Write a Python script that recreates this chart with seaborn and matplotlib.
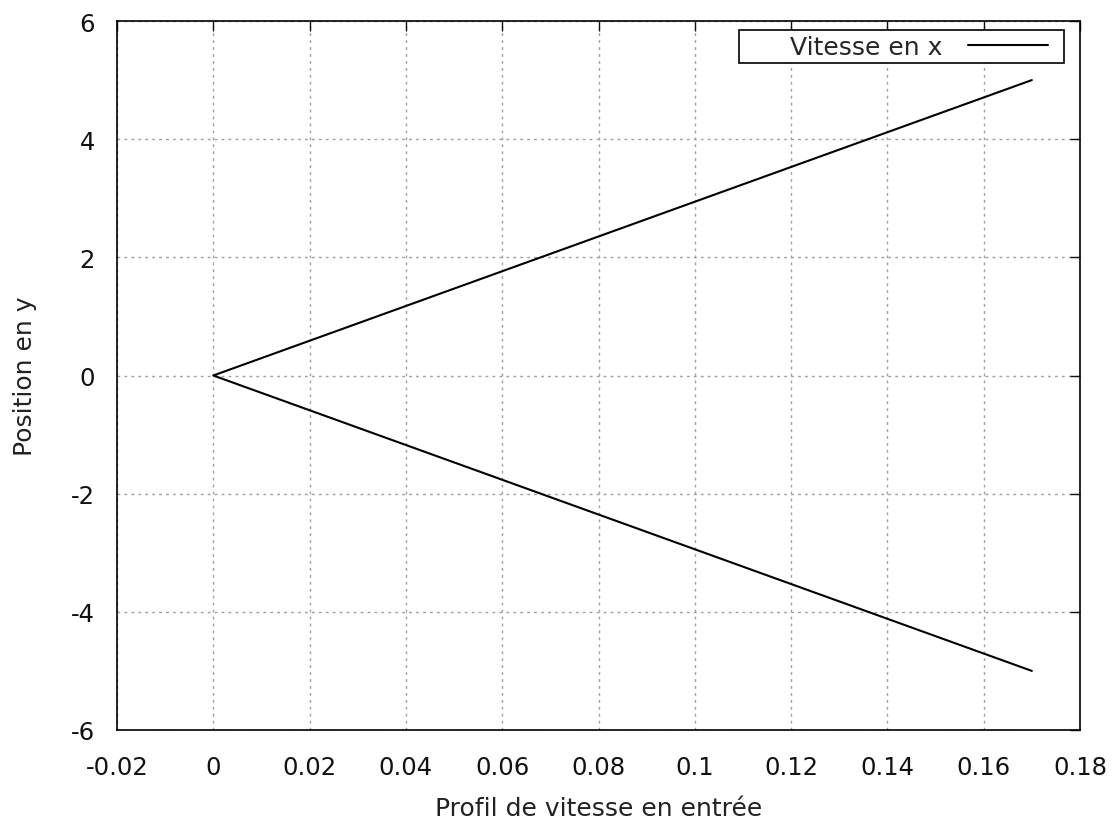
import matplotlib
matplotlib.use("Agg")
import matplotlib.pyplot as plt
from matplotlib.patches import Rectangle
import seaborn as sns
import pandas as pd

# profil de vitesse en entrée (vitesse en x selon la position en y)
position_y = [5, 4, 3, 2, 1, 0, -1, -2, -3, -4, -5]
vitesse_x = [0.17, 0.136, 0.102, 0.068, 0.034, 0.0, 0.034, 0.068, 0.102, 0.136, 0.17]

x_ticks = [-0.02, 0, 0.02, 0.04, 0.06, 0.08, 0.1, 0.12, 0.14, 0.16, 0.18]
x_labels = ["-0.02", "0", "0.02", "0.04", "0.06", "0.08", "0.1", "0.12", "0.14", "0.16", "0.18"]
y_ticks = [-6, -4, -2, 0, 2, 4, 6]

sns.set_style("white")
plt.rcParams['font.family'] = ['DejaVu Sans']
plt.rcParams['axes.unicode_minus'] = False

df = pd.DataFrame({'vitesse': vitesse_x, 'position': position_y})

fig = plt.figure(figsize=(11.12, 8.28), dpi=100)
ax = fig.add_axes([117 / 1112, 1 - 731 / 828, (1080 - 117) / 1112, (731 - 22) / 828])

sns.lineplot(data=df, x='vitesse', y='position', sort=False, estimator=None,
             errorbar=None, color='black', lw=1.5, label='Vitesse en x', ax=ax)

ax.set_xlim(-0.02, 0.18)
ax.set_ylim(-6, 6)
ax.set_xticks(x_ticks)
ax.set_xticklabels(x_labels)
ax.set_yticks(y_ticks)
ax.tick_params(direction='in', length=7, width=1, top=True, right=True,
               labelsize=17.5, colors='#111111', pad=18)
ax.tick_params(axis='x', labeltop=False)
ax.tick_params(axis='y', labelright=False, pad=16)
for s in ax.spines.values():
    s.set_color('black')
    s.set_linewidth(1.2)
    s.set_visible(True)

ax.grid(True, color='#a0a0a0', linestyle=(0, (2, 3)), lw=1)
ax.set_axisbelow(True)

ax.set_xlabel('Profil de vitesse en entrée', fontsize=18, labelpad=12, color='#222222')
ax.set_ylabel('Position en y', fontsize=18, labelpad=24, color='#222222')

# cadre de la légende façon gnuplot (texte à gauche, trait à droite)
ax.add_patch(Rectangle((0.646, 0.941), 0.337, 0.046, transform=ax.transAxes,
                       facecolor='white', edgecolor='black', lw=1.2, zorder=5))
leg = ax.legend(loc='center right', markerfirst=False, frameon=False,
                fontsize=18, handlelength=3.2, handletextpad=1.0,
                borderpad=0, borderaxespad=0,
                bbox_to_anchor=(0.983 - 16 / 963, 0.964))
leg.set_zorder(6)

fig.savefig('out.png', dpi=100)
